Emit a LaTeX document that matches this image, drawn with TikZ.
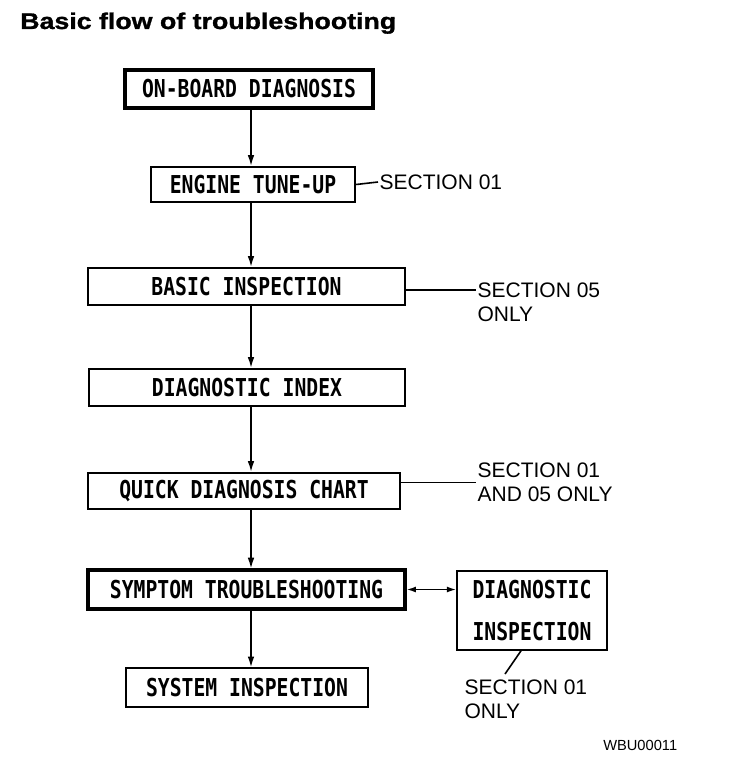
\documentclass[tikz,border=0pt]{standalone}
\usepackage{fontspec}
\setmainfont{Liberation Sans}
\newfontfamily\boxfont[FakeStretch=0.8]{DejaVu Sans Mono}
\newfontfamily\titlefont[FakeStretch=1.18,FakeBold=1.2]{Liberation Sans}
\usetikzlibrary{arrows.meta,positioning}

\begin{document}
\begin{tikzpicture}[x=0.75pt,y=-0.75pt,
		box/.style={draw, line width=1.8pt, inner sep=0pt, font=\boxfont\bfseries\fontsize{18.5pt}{20pt}\selectfont},
		thickbox/.style={box, line width=2.4pt},
		thinbox/.style={box, line width=1.2pt},
		sidelabel/.style={inner sep=1pt, align=left, font=\fontsize{15.75pt}{18pt}\selectfont},
		flow/.style={line width=1.1pt, -{Latex[length=8pt,width=5pt]}},
		tie/.style={line width=1.2pt}]
		
		\useasboundingbox (0,0) rectangle (736,762);
		
		\node[anchor=base west, inner sep=0pt, font=\titlefont\bfseries\fontsize{17pt}{20pt}\selectfont] (title) at (20,29) {Basic flow of troubleshooting};
		
		% main column
		\node[thickbox, minimum width=186pt, minimum height=28.5pt] (onboard) at (249,89) {ON-BOARD DIAGNOSIS};
		\node[box, minimum width=153pt, minimum height=26.25pt] (etu) at (253,184.5) {ENGINE TUNE-UP};
		\node[box, minimum width=237.75pt, minimum height=27.75pt] (basic) at (246.5,286.5) {BASIC INSPECTION};
		\node[box, minimum width=237pt, minimum height=27.75pt] (index) at (247,387.5) {DIAGNOSTIC INDEX};
		\node[box, minimum width=234pt, minimum height=27pt] (quick) at (244,491) {QUICK DIAGNOSIS CHART};
		\node[thickbox, minimum width=237.75pt, minimum height=29.25pt] (symptom) at (246.5,589.5) {SYMPTOM TROUBLESHOOTING};
		\node[thinbox, minimum width=181.5pt, minimum height=29.25pt] (system) at (247,687.5) {SYSTEM INSPECTION};
		\node[thinbox, minimum width=112.5pt, minimum height=59.25pt, align=center, font=\boxfont\bfseries\fontsize{18.5pt}{31.5pt}\selectfont] (diag) at (532,610.5) {DIAGNOSTIC\\INSPECTION};
		
		\coordinate (spine) at (251,0);
		\draw[flow] (onboard.south -| spine) -- (etu.north -| spine);
		\draw[flow] (etu.south -| spine) -- (basic.north -| spine);
		\draw[flow] (basic.south -| spine) -- (index.north -| spine);
		\draw[flow] (index.south -| spine) -- (quick.north -| spine);
		\draw[flow] (quick.south -| spine) -- (symptom.north -| spine);
		\draw[flow] (symptom.south -| spine) -- (system.north -| spine);
		\draw[tie, {Latex[length=7pt,width=4.5pt]}-{Latex[length=7pt,width=4.5pt]}] (symptom.east) -- (diag.west |- symptom.east);
		
		% section notes
		\node[sidelabel, anchor=west] (sec01a) at (378,182) {SECTION 01};
		\node[sidelabel, anchor=west] (sec05) at (476,290) {SECTION 05};
		\node[sidelabel, below=18pt of sec05.west, anchor=west] (sec05b) {ONLY};
		\node[sidelabel, anchor=west] (sec0105) at (476,482.5) {SECTION 01\\AND 05 ONLY};
		\node[sidelabel, anchor=north west] (sec01b) at (463,678) {SECTION 01\\ONLY};
		\coordinate (tick) at (505,674);
		
		\draw[tie] (etu.east) -- (sec01a.west);
		\draw[tie] (basic.east |- sec05.west) -- (sec05.west);
		\draw[tie] (quick.east |- sec0105.west) -- (sec0105.west);
		\draw[tie] (diag.south) ++(-11,0) -- (tick);
		
		\node[anchor=base west, inner sep=0pt, font=\fontsize{11pt}{13pt}\selectfont] (code) at (603,750) {WBU00011};
		
	\end{tikzpicture}
\end{document}
